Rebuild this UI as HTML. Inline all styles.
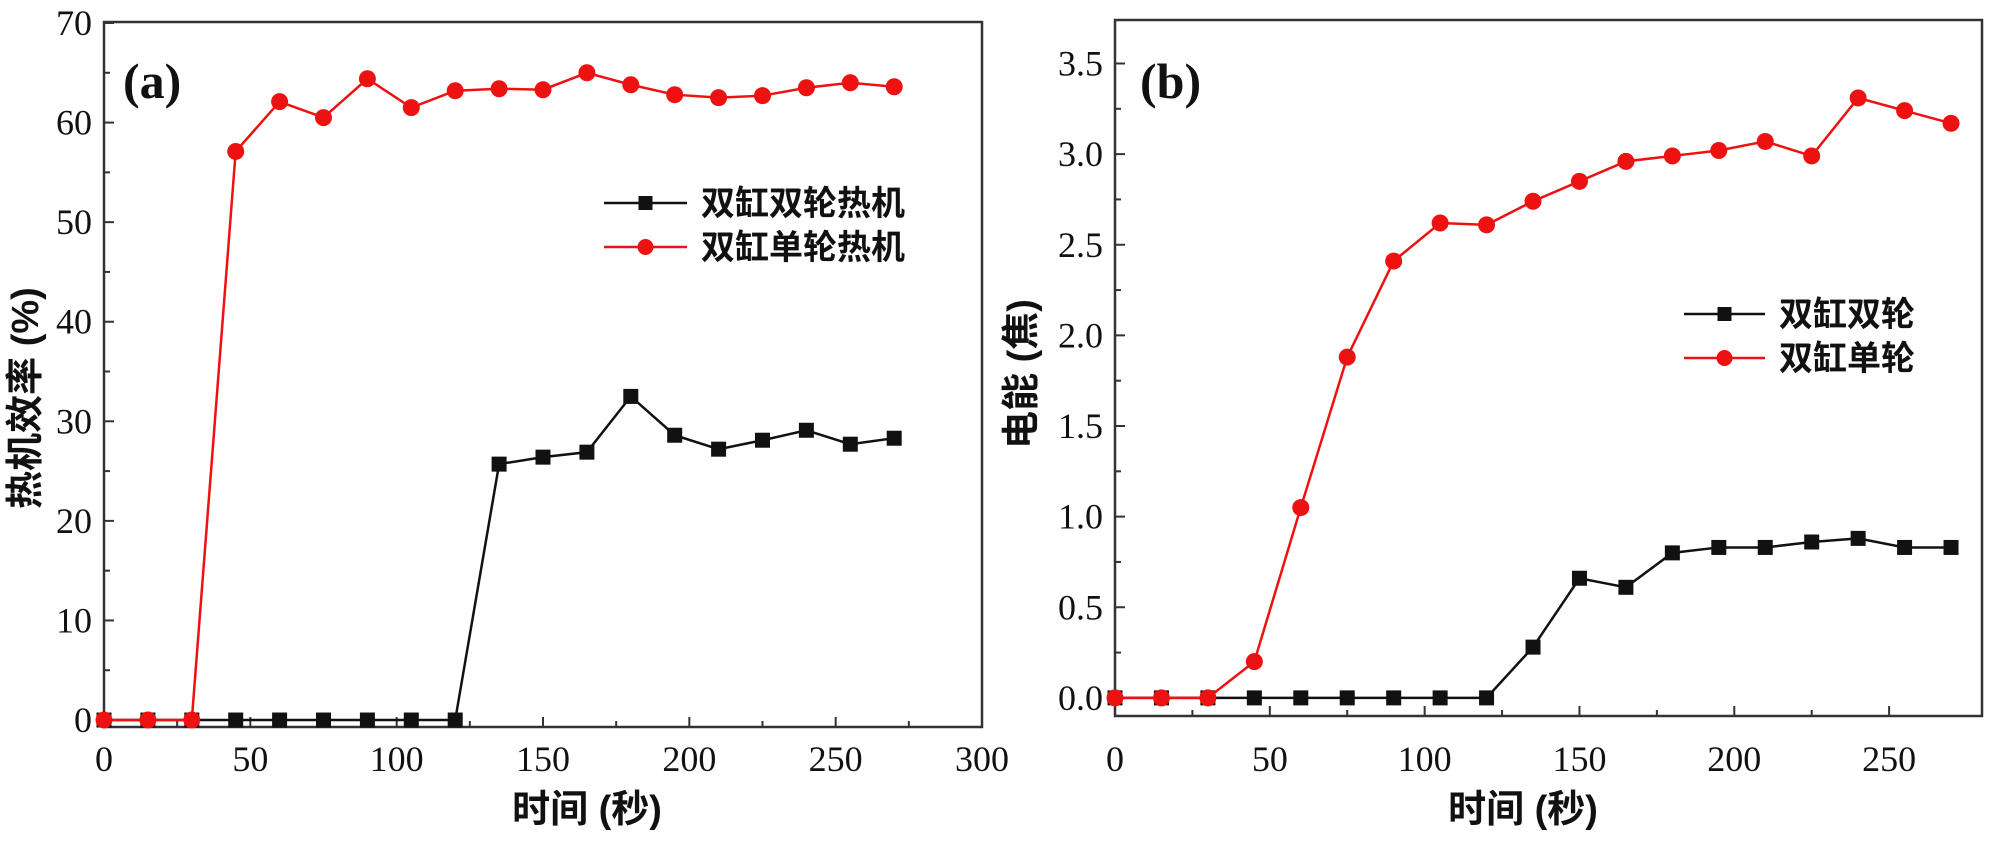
<!DOCTYPE html>
<html><head><meta charset="utf-8"><style>
html,body{margin:0;padding:0;background:#fff;}
svg text{font-family:"Liberation Serif","Noto Serif CJK SC",serif;}
.cjk{font-family:"Liberation Sans","Noto Sans CJK SC",sans-serif;font-weight:bold;}
</style></head><body>
<svg id="chart" width="2000" height="837" viewBox="0 0 2000 837" xmlns="http://www.w3.org/2000/svg"></svg>
<script>
const times = [0,15,30,45,60,75,90,105,120,135,150,165,180,195,210,225,240,255,270];
const effDouble = [0,0,0,0,0,0,0,0,0,25.7,26.4,26.9,32.5,28.6,27.2,28.1,29.1,27.7,28.3];
const effSingle = [0,0,0,57.1,62.1,60.5,64.4,61.5,63.2,63.4,63.3,65,63.8,62.8,62.5,62.7,63.5,64,63.6];
const enDouble = [0,0,0,0,0,0,0,0,0,0.28,0.66,0.61,0.8,0.83,0.83,0.86,0.88,0.83,0.83];
const enSingle = [0,0,0,0.2,1.05,1.88,2.41,2.62,2.61,2.74,2.85,2.96,2.99,3.02,3.07,2.99,3.31,3.24,3.17];
const xTicksA = [0,50,100,150,200,250,300];
const yTicksA = [0,10,20,30,40,50,60,70];
const xTicksB = [0,50,100,150,200,250];
const yTicksB = [0,0.5,1.0,1.5,2.0,2.5,3.0,3.5];

const svg = document.getElementById('chart');
const NS = 'http://www.w3.org/2000/svg';
function mk(tag, attrs, parent){const e=document.createElementNS(NS,tag);for(const k in attrs)e.setAttribute(k,attrs[k]);(parent||svg).appendChild(e);return e;}

function panel(cfg){
  const g = mk('g',{});
  
  
  const {L,R,T,B,x0,x1,y0,y1} = cfg;
  const sx = v => L + (v-x0)/(x1-x0)*(R-L);
  const sy = v => B - (v-y0)/(y1-y0)*(B-T);
  const frame = mk('rect',{x:L,y:T,width:R-L,height:B-T,fill:'none',stroke:'#333',"stroke-width":2.5},g);
  
  
  cfg.xt.forEach((v,i)=>{
    const x=sx(v);
    mk('line',{x1:x,y1:B,x2:x,y2:B-10,stroke:'#333','stroke-width':2},g);
    if(i<cfg.xt.length-1){const xm=sx(v+cfg.xstep/2);if(xm<R) mk('line',{x1:xm,y1:B,x2:xm,y2:B-6,stroke:'#333','stroke-width':2},g);}
    const t=mk('text',{x:x,y:771,'font-size':36,'text-anchor':'middle',fill:'#111'},g);
    t.textContent=v;
    
    
  });
  cfg.yt.forEach((v,i)=>{
    const y=sy(v);
    mk('line',{x1:L,y1:y,x2:L+10,y2:y,stroke:'#333','stroke-width':2},g);
    const ym=sy(v+cfg.ystep/2); if(ym>T) mk('line',{x1:L,y1:ym,x2:L+6,y2:ym,stroke:'#333','stroke-width':2},g);
    const t=mk('text',{x:L-12,y:y+12,'font-size':36,'text-anchor':'end',fill:'#111'},g);
    t.textContent=cfg.yfmt(v);
    
    
  });
  function series(vals,color,shape,nm){
    const pts=times.map((t,i)=>sx(t)+','+sy(vals[i])).join(' ');
    const pl=mk('polyline',{points:pts,fill:'none',stroke:color,'stroke-width':2.5},g);
    
    
    times.forEach((t,i)=>{
      let m;
      if(shape==='sq') m=mk('rect',{x:sx(t)-7.5,y:sy(vals[i])-7.5,width:15,height:15,fill:color},g);
      else m=mk('circle',{cx:sx(t),cy:sy(vals[i]),r:8.5,fill:color},g);
      
      
    });
  }
  series(cfg.s1,'#111','sq','series-double');
  series(cfg.s2,'#ee1111','ci','series-single');
  const lg=mk('g',{},g);
  
  
  [[cfg.lab1,'#111','sq',cfg.ly1],[cfg.lab2,'#ee1111','ci',cfg.ly2]].forEach(([lab,c,sh,y])=>{
    mk('line',{x1:cfg.lx1,y1:y,x2:cfg.lx2,y2:y,stroke:c,'stroke-width':2.5},lg);
    const mx=(cfg.lx1+cfg.lx2)/2;
    if(sh==='sq') mk('rect',{x:mx-7,y:y-7,width:14,height:14,fill:c},lg); else mk('circle',{cx:mx,cy:y,r:8,fill:c},lg);
    const t=mk('text',{x:cfg.lx2+14,y:y+12,'font-size':34,class:'cjk',fill:'#111'},lg);
    t.textContent=lab;
    
    
  });
  const pl=mk('text',{x:cfg.px,y:98,'font-size':50,'font-weight':'bold',fill:'#111'},g);
  pl.textContent=cfg.plabel;
  
  
  const xt=mk('text',{x:cfg.xtx,y:822,'font-size':38,class:'cjk','text-anchor':'middle',fill:'#111'},g);
  xt.textContent='时间 (秒)';
  
  
  const yt=mk('text',{x:0,y:0,'font-size':38,class:'cjk','text-anchor':'middle',fill:'#111',transform:`translate(${cfg.ytx},${cfg.yty}) rotate(-90)`},g);
  yt.textContent=cfg.ytitle;
  
  
}

panel({name:'panel-a-efficiency',L:104,R:982,T:22,B:727,x0:0,x1:300,y0:-0.7,y1:70.1,
  xt:xTicksA,yt:yTicksA,xstep:50,ystep:10,yfmt:v=>String(v),s1:effDouble,s2:effSingle,
  lab1:'双缸双轮热机',lab2:'双缸单轮热机',lx1:604,lx2:687,ly1:203,ly2:247,
  plabel:'(a)',px:123,xtx:587,ytx:38,yty:398,ytitle:'热机效率 (%)'});
panel({name:'panel-b-energy',L:1115,R:1982,T:20,B:716,x0:0,x1:280,y0:-0.1,y1:3.74,
  xt:xTicksB,yt:yTicksB,xstep:50,ystep:0.5,yfmt:v=>v.toFixed(1),s1:enDouble,s2:enSingle,
  lab1:'双缸双轮',lab2:'双缸单轮',lx1:1684,lx2:1765,ly1:314,ly2:358,
  plabel:'(b)',px:1140,xtx:1523,ytx:1034,yty:374,ytitle:'电能 (焦)'});
</script>
</body></html>
